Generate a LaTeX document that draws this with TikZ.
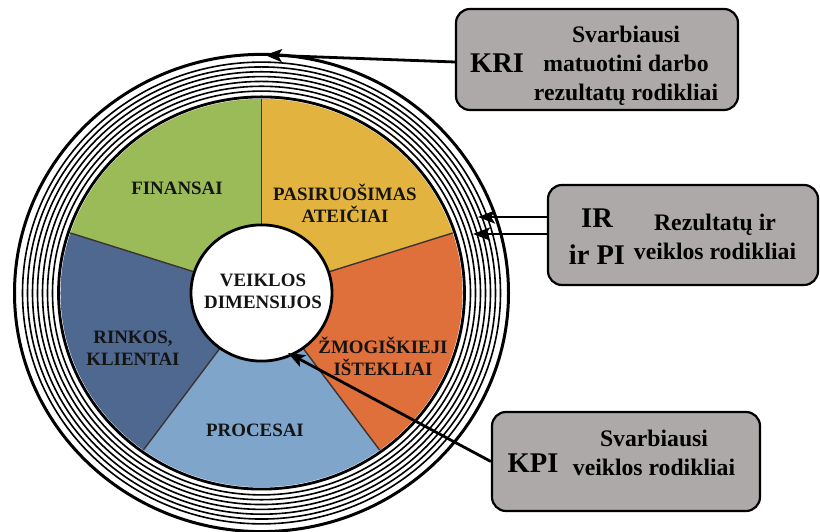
\documentclass[tikz,border=0pt]{standalone}
\usepackage{fontspec}
\setmainfont{Liberation Serif}
\usetikzlibrary{arrows.meta}

\definecolor{finGreen}{HTML}{9BBB59}
\definecolor{futYellow}{HTML}{E2B43F}
\definecolor{hrOrange}{HTML}{DF6F3B}
\definecolor{mktBlue}{HTML}{4F6890}
\definecolor{procBlue}{HTML}{7FA5CB}
\definecolor{boxGray}{HTML}{ADA9A9}
\definecolor{sepLine}{HTML}{3B3431}
\definecolor{inkText}{HTML}{141414}

\begin{document}
\begin{tikzpicture}[x=1pt,y=1pt,
  ring/.style={line width=1.6pt},
  thickring/.style={line width=3pt},
  sep/.style={draw=sepLine,line width=1.4pt},
  slicelabel/.style={inner sep=0pt,align=center,text=inkText,
    font=\fontsize{18.9}{22}\selectfont\bfseries},
  callout/.style={draw=black,line width=2.2pt,fill=boxGray,rounded corners=14pt},
  calloutkey/.style={inner sep=0pt,align=center,
    font=\fontsize{28.5}{37}\selectfont\bfseries},
  callouttext/.style={inner sep=0pt,align=center,
    font=\fontsize{23.7}{29}\selectfont\bfseries},
  pointer/.style={line width=2.8pt,-{Stealth[length=17pt,width=13pt,inset=4pt]}}
]
\useasboundingbox (0,0) rectangle (820,532);

% the wheel: rings, five slices and the hub
\begin{scope}[shift={(261.5,239)},yscale=0.966]
  \foreach \r in {209,214,219,224,229,234,239}
    \draw[ring] (0,0) circle[radius=\r];
  \draw[thickring] (0,0) circle[radius=247];
  \fill[finGreen]  (0,0) -- (90:201)  arc[start angle=90,  end angle=162, radius=201] -- cycle;
  \fill[mktBlue]   (0,0) -- (162:201) arc[start angle=162, end angle=234, radius=201] -- cycle;
  \fill[procBlue]  (0,0) -- (234:201) arc[start angle=234, end angle=306, radius=201] -- cycle;
  \fill[hrOrange]  (0,0) -- (306:201) arc[start angle=306, end angle=378, radius=201] -- cycle;
  \fill[futYellow] (0,0) -- (18:201)  arc[start angle=18,  end angle=90,  radius=201] -- cycle;
  \foreach \a in {90,162,234,306,18}
    \draw[sep] (\a:60) -- (\a:201);
  \draw[line width=2.8pt] (0,0) circle[radius=203];
  \draw[line width=2.8pt,fill=white] (0,0) circle[radius=70.5];
\end{scope}

% slice and hub labels
\node[slicelabel] (hub)  at (263,241) {VEIKLOS\\DIMENSIJOS};
\node[slicelabel] (fin)  at (177,344) {FINANSAI};
\node[slicelabel] (fut)  at (345,329) {PASIRUOŠIMAS\\ATEIČIAI};
\node[slicelabel] (hr)   at (383,176) {ŽMOGIŠKIEJI\\IŠTEKLIAI};
\node[slicelabel] (mkt)  at (133,184) {RINKOS,\\KLIENTAI};
\node[slicelabel] (proc) at (255,102) {PROCESAI};

% callout boxes
\node[callout,minimum width=282pt,minimum height=101pt] (kri) at (597,472.5) {};
\node[calloutkey]  (krikey) at (497,469) {KRI};
\node[callouttext] (kritxt) at (626,466) {Svarbiausi\\matuotini darbo\\rezultatų rodikliai};

\node[callout,minimum width=270pt,minimum height=100pt] (ir) at (683,297) {};
\node[calloutkey]  (irkey) at (597,295.5) {IR\\ir PI};
\node[callouttext] (irtxt) at (715,295) {Rezultatų ir\\veiklos rodikliai};

\node[callout,minimum width=268pt,minimum height=99pt] (kpi) at (626,70.5) {};
\node[calloutkey]  (kpikey) at (533,69) {KPI};
\node[callouttext] (kpitxt) at (654,79.5) {Svarbiausi\\veiklos rodikliai};

% pointers from the boxes to the wheel
\coordinate (kritip) at (265,477);
\coordinate (irtipA) at (478,315);
\coordinate (irtipB) at (473,298);
\coordinate (kpitip) at (288,179);
\draw[pointer] ([yshift=-2.5pt]kri.west) -- (kritip);
\draw[pointer] (ir.west |- irtipA) -- (irtipA);
\draw[pointer] (ir.west |- irtipB) -- (irtipB);
\draw[pointer] (kpi.west) -- (kpitip);
\end{tikzpicture}
\end{document}
